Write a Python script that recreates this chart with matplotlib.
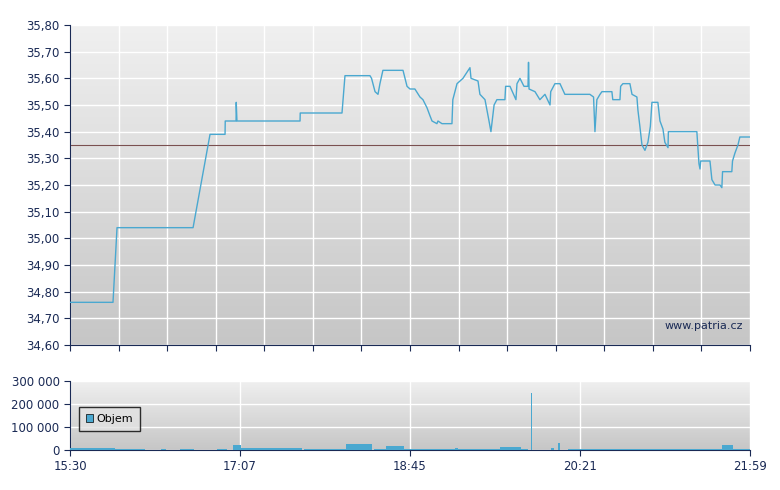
import numpy as np
import matplotlib.pyplot as plt
from matplotlib.colors import LinearSegmentedColormap

# price polyline: (minutes after 15:30, price)
price_points = [
    (0, 34.76), (24.6, 34.76), (26.9, 35.04), (70.4, 35.04), (80.1, 35.39), (88.7, 35.39),
    (88.8, 35.44), (95, 35.44), (95.1, 35.51), (95.5, 35.44), (131.6, 35.44), (131.7, 35.47),
    (155.6, 35.47), (157.3, 35.61), (171.6, 35.61), (172.5, 35.60), (174.5, 35.55),
    (176.2, 35.54), (177.3, 35.58), (179, 35.63), (190.5, 35.63), (192.8, 35.57),
    (194.5, 35.56), (197.3, 35.56), (200.2, 35.53), (201.9, 35.52), (204.2, 35.49),
    (205.9, 35.46), (207.1, 35.44), (209.9, 35.43), (210.5, 35.44), (212.8, 35.43),
    (218.5, 35.43), (219.0, 35.52), (220.2, 35.55), (221.4, 35.58), (224.8, 35.60),
    (228.8, 35.64), (229.4, 35.60), (233.4, 35.59), (234.5, 35.54), (237.4, 35.52),
    (239.7, 35.44), (240.8, 35.40), (242.6, 35.50), (244.2, 35.52), (248.8, 35.52),
    (249.2, 35.57), (251.7, 35.57), (255.1, 35.52), (255.7, 35.58), (257.4, 35.60),
    (259.7, 35.57), (262, 35.57), (262.3, 35.66), (262.6, 35.56), (266, 35.55),
    (268.8, 35.52), (271.7, 35.54), (274.6, 35.50), (275.0, 35.55), (277.4, 35.58),
    (280.3, 35.58), (283.1, 35.54), (297.4, 35.54), (299.5, 35.53), (300.3, 35.40),
    (301.4, 35.52), (303.2, 35.54), (304.3, 35.55), (310, 35.55), (310.5, 35.52),
    (314.6, 35.52), (315.0, 35.57), (316.3, 35.58), (320.3, 35.58), (321.5, 35.54),
    (324.3, 35.53), (324.9, 35.48), (326, 35.42), (327.2, 35.35), (328.9, 35.33),
    (330.6, 35.36), (332.0, 35.42), (332.9, 35.51), (336.3, 35.51), (337.5, 35.44),
    (339.2, 35.41), (340.3, 35.36), (342.1, 35.34), (342.3, 35.40), (358.6, 35.40),
    (359.8, 35.28), (360.4, 35.26), (360.8, 35.29), (366.1, 35.29), (367.2, 35.22),
    (369, 35.20), (371.8, 35.20), (372.9, 35.19), (373.3, 35.25), (378.6, 35.25),
    (379.0, 35.29), (380.4, 35.32), (382.1, 35.35), (383.2, 35.38), (389, 35.38),
]
minutes = [p[0] for p in price_points]
prices = [p[1] for p in price_points]
ref_price = 35.35

# volume bars: start minute, width (minutes), volume
vol_start = [0, 12, 26, 52, 63, 84, 93, 98, 134, 158, 174, 181, 191, 220, 246, 258, 263.5,
             275, 279, 285, 373, 378]
vol_width = [12, 14, 17, 3, 8, 6, 5, 35, 25, 15, 7, 10, 55, 2, 12, 4, 0.6, 2, 1.2, 88, 6, 11]
vol_vals = [10000, 9000, 5000, 5000, 4000, 6000, 22000, 9000, 5000, 27000, 5000, 18000, 4000,
            7000, 14000, 4000, 250000, 8000, 30000, 4000, 22000, 4000]

blue = '#4aa8d0'
navy = '#1a2a55'
fig = plt.figure(figsize=(7.8, 4.9), dpi=100)
ax = fig.add_axes([70/780, 145/490, 680/780, 320/490])
ax2 = fig.add_axes([70/780, 40/490, 680/780, 69/490])
cmap = LinearSegmentedColormap.from_list('g', ['#f0f0f0', '#c6c6c6'])

for a, ylim in ((ax, (34.6, 35.8)), (ax2, (0, 300000))):
    grad = np.linspace(0, 1, 256).reshape(-1, 1)
    a.imshow(grad, cmap=cmap, extent=[0, 389, ylim[0], ylim[1]], aspect='auto',
             zorder=0, origin='upper')
    a.set_xlim(0, 389)
    a.set_ylim(*ylim)
    for s in ('top', 'right'):
        a.spines[s].set_visible(False)
    a.spines['left'].set_color(navy)
    a.spines['bottom'].set_color(navy)
    a.tick_params(colors=navy, labelsize=8.5, length=4)

yt = np.arange(34.6, 35.81, 0.1)
ax.set_yticks(yt)
ax.set_yticklabels([f'{v:.2f}'.replace('.', ',') for v in yt])
ax.set_xticks(np.linspace(0, 389, 15))
ax.set_xticklabels([])
ax.grid(True, color='white', lw=1, zorder=1)
ax.plot(minutes, prices, color=blue, lw=1, zorder=3)
ax.axhline(ref_price, color='#7a5050', lw=0.8, zorder=2)
ax.text(0.99, 0.06, 'www.patria.cz', transform=ax.transAxes, ha='right', va='center',
        fontsize=8, color=navy)

ax2.bar(vol_start, vol_vals, width=vol_width, align='edge', color=blue, zorder=3)
ax2.set_yticks([0, 100000, 200000, 300000])
ax2.set_yticklabels(['0', '100 000', '200 000', '300 000'])
ax2.set_xticks(np.linspace(0, 389, 5))
ax2.set_xticklabels(['15:30', '17:07', '18:45', '20:21', '21:59'])
ax2.grid(True, color='white', lw=1, zorder=1)
ax2.bar([0], [0], color=blue, label='Objem', edgecolor='black', lw=0.5)
leg = ax2.legend(loc='center left', bbox_to_anchor=(0.005, 0.45), fontsize=8, frameon=True,
                 fancybox=False, handlelength=0.7, handleheight=0.7, handletextpad=0.3,
                 borderpad=0.6)
leg.get_frame().set_edgecolor('black')
leg.get_frame().set_facecolor('#e2e2e2')

fig.savefig('out.png', dpi=100)
